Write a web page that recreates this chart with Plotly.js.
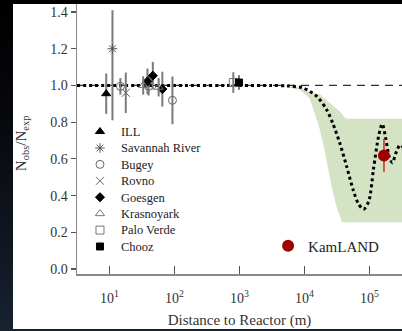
<!DOCTYPE html>
<html><head><meta charset="utf-8">
<script src="https://cdn.plot.ly/plotly-3.0.1.min.js"></script>
<style>
html,body{margin:0;padding:0;width:402px;height:331px;overflow:hidden;
background:linear-gradient(to bottom,#000 0%,#06080d 35%,#172130 100%);}
#chart{position:absolute;left:13px;top:4px;width:389px;height:325px;}
</style></head><body><div id="chart"></div>
<script>
// ---- data (distance in metres, ratio Nobs/Nexp) ----
const illX = [8.9];            const illY = [0.955];          const illErr = [0.11];
const srX = [11.1];            const srY = [1.2];             const srErrPlus = [0.21]; const srErrMinus = [0.39];
const bugeyX = [14.7, 40, 93]; const bugeyY = [0.995, 0.995, 0.919]; const bugeyErr = [0.045, 0.05, 0.13];
const rovnoX = [17.8];         const rovnoY = [0.96];         const rovnoErr = [0.11];
const goesgenX = [38.4, 46.4, 65]; const goesgenY = [1.022, 1.053, 0.98]; const goesgenErr = [0.07, 0.075, 0.095];
const krasX = [33, 57];        const krasY = [1.0, 0.99];     const krasErr = [0.05, 0.05];
const paloX = [803];           const paloY = [1.016];         const paloErr = [0.056];
const choozX = [982];          const choozY = [1.016];        const choozErr = [0.04];
const kamX = [167000];         const kamY = [0.619];          const kamErr = [0.09];

// best-fit oscillation curve
const curveX = [3.16, 100, 1000, 3160, 5620, 9550, 15500, 21900, 27500, 35000, 44400, 56200, 67600, 81300, 97700, 115000, 138000, 157000, 178000, 200000, 224000, 260000, 295000, 355000];
const curveY = [1.0, 1.0, 1.0, 1.0, 0.997, 0.986, 0.94, 0.868, 0.79, 0.685, 0.56, 0.43, 0.355, 0.326, 0.37, 0.543, 0.723, 0.79, 0.71, 0.615, 0.579, 0.64, 0.675, 0.65];

// 95% allowed band outline (upper edge left->right, lower edge right->left)
const bandX = [4170, 7940, 12000, 17300, 24500, 35000, 41700, 44700, 400000, 400000, 38000, 35500, 31600, 26900, 22900, 19500, 16600, 14100, 12000, 8510, 4170];
const bandY = [1.0, 0.99, 0.967, 0.95, 0.905, 0.86, 0.825, 0.818, 0.818, 0.255, 0.255, 0.28, 0.33, 0.43, 0.56, 0.68, 0.78, 0.86, 0.93, 0.975, 1.0];

const refX = [3.16, 400000]; const refY = [1.0, 1.0];

const legendNames = ['ILL', 'Savannah River', 'Bugey', 'Rovno', 'Goesgen', 'Krasnoyark', 'Palo Verde', 'Chooz'];
const xTickVals = [10, 100, 1000, 10000, 100000];
const xTickText = ['10<sup>1</sup>', '10<sup>2</sup>', '10<sup>3</sup>', '10<sup>4</sup>', '10<sup>5</sup>'];
const yTickVals = [0, 0.2, 0.4, 0.6, 0.8, 1.0, 1.2, 1.4];

// ---- styles ----
const grey = '#7a7a7a';
const errStyle = {type: 'data', thickness: 2, width: 0, color: grey};
const styles = {
  'ILL': {symbol: 'triangle-up', color: '#000', size: 8},
  'Savannah River': {symbol: 'asterisk-open', color: '#555', size: 8},
  'Bugey': {symbol: 'circle-open', color: '#666', size: 8},
  'Rovno': {symbol: 'x-thin-open', color: '#666', size: 8},
  'Goesgen': {symbol: 'diamond', color: '#000', size: 7},
  'Krasnoyark': {symbol: 'triangle-up-open', color: '#777', size: 8},
  'Palo Verde': {symbol: 'square-open', color: '#777', size: 8},
  'Chooz': {symbol: 'square', color: '#000', size: 7}
};
function mk(name) {
  const s = styles[name];
  return {symbol: s.symbol, color: s.color, size: s.size, line: {color: s.color, width: 1.0}};
}
function pts(name, x, y, ep, em) {
  const e = Object.assign({}, errStyle, {array: ep});
  if (em) { e.symmetric = false; e.arrayminus = em; }
  return {type: 'scatter', mode: 'markers', name: name, x: x, y: y, error_y: e,
          marker: mk(name), showlegend: false, xaxis: 'x', yaxis: 'y'};
}

const traces = [
  {type: 'scatter', mode: 'lines', x: bandX, y: bandY, fill: 'toself', fillcolor: '#d5e3c5',
   line: {width: 0, color: '#d5e3c5'}, showlegend: false, hoverinfo: 'skip'},
  {type: 'scatter', mode: 'lines', x: refX, y: refY, line: {color: '#333', width: 1.2, dash: '8px,6px'},
   showlegend: false},
  {type: 'scatter', mode: 'lines', x: curveX, y: curveY, line: {color: '#000', width: 3, dash: 'dot', shape: 'spline', smoothing: 0.8},
   showlegend: false},
  pts('ILL', illX, illY, illErr),
  pts('Savannah River', srX, srY, srErrPlus, srErrMinus),
  pts('Bugey', bugeyX, bugeyY, bugeyErr),
  pts('Rovno', rovnoX, rovnoY, rovnoErr),
  pts('Goesgen', goesgenX, goesgenY, goesgenErr),
  pts('Krasnoyark', krasX, krasY, krasErr),
  pts('Palo Verde', paloX, paloY, paloErr),
  pts('Chooz', choozX, choozY, choozErr),
  {type: 'scatter', mode: 'markers', name: 'KamLAND', x: kamX, y: kamY,
   error_y: {type: 'data', array: kamErr, thickness: 1.5, width: 0, color: '#c03030'},
   marker: {symbol: 'circle', color: '#a00000', size: 12}, showlegend: true, legend: 'legend'}
];
// legend key markers on a helper category axis
legendNames.forEach(function (n) {
  traces.push({type: 'scatter', mode: 'markers', x: [0], y: [n], xaxis: 'x2', yaxis: 'y2',
               marker: mk(n), showlegend: false, hoverinfo: 'skip', cliponaxis: false});
});

const serif = '"Liberation Serif", "Times New Roman", Times, serif';
const layout = {
  width: 389, height: 325,
  margin: {l: 64, r: 0, t: 0, b: 55},
  paper_bgcolor: '#fff', plot_bgcolor: '#fff',
  font: {family: serif, color: '#333', size: 14},
  xaxis: {type: 'log', range: [0.5, 5.5], tickvals: xTickVals, ticktext: xTickText,
          showline: true, linecolor: '#888', linewidth: 1.5, mirror: true,
          ticks: 'inside', ticklen: 8, tickcolor: '#555', tickwidth: 1.2, ticklabelstandoff: 11,
          showgrid: false, zeroline: false, tickfont: {family: serif, size: 14, color: '#333'},
          title: {text: 'Distance to Reactor (m)', font: {family: serif, size: 15, color: '#333'}, standoff: 10}},
  yaxis: {range: [-0.027, 1.4436], tickvals: yTickVals, tickformat: '.1f',
          showline: true, linecolor: '#888', linewidth: 1.5,
          ticks: 'outside', ticklen: 5, tickcolor: '#555', tickwidth: 1.2,
          showgrid: false, zeroline: false, tickfont: {family: serif, size: 14, color: '#333'}},
  xaxis2: {domain: [0.0154, 0.126], range: [-1, 1], anchor: 'y2', visible: false, fixedrange: true},
  yaxis2: {domain: [0.0715, 0.558], anchor: 'x2', side: 'right', type: 'category',
           categoryorder: 'array', categoryarray: legendNames.slice().reverse(),
           range: [-0.5, 7.5], showline: false, ticks: '', showgrid: false, zeroline: false,
           tickfont: {family: serif, size: 12.5, color: '#222'}, ticklabelstandoff: 2},
  legend: {x: 0.588, y: 0.1037, xanchor: 'left', yanchor: 'middle', bgcolor: 'rgba(0,0,0,0)',
           font: {family: serif, size: 15, color: '#222'}, borderwidth: 0},
  annotations: [{text: 'N<sub>obs</sub>/N<sub>exp</sub>', xref: 'paper', yref: 'paper',
                 x: -0.169, y: 0.485, xanchor: 'center', yanchor: 'middle', textangle: -90,
                 showarrow: false, font: {family: serif, size: 15, color: '#333'}}]
};
Plotly.newPlot('chart', traces, layout, {displayModeBar: false, staticPlot: true});
</script></body></html>
